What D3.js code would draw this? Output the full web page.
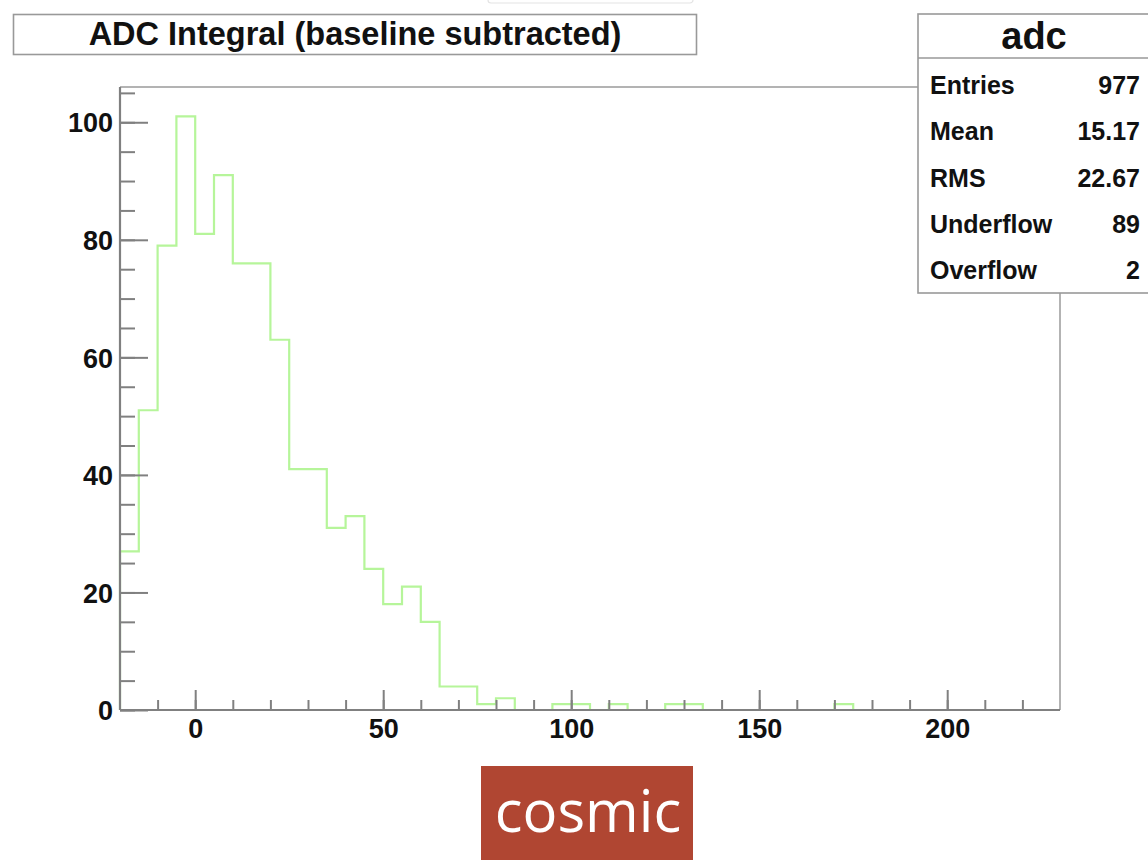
<!DOCTYPE html>
<html>
<head>
<meta charset="utf-8">
<script src="https://cdn.jsdelivr.net/npm/d3@7"></script>
<style>
  html, body { margin: 0; padding: 0; background: #fff; }
  svg { display: block; }
</style>
</head>
<body>
<svg id="chart" width="1148" height="860"></svg>
<script>
// ---- Data ----
const binLowEdges = [-20,-15,-10,-5,0,5,10,15,20,25,30,35,40,45,50,55,60,65,70,75,80,85,90,95,100,105,110,115,120,125,130,135,140,145,150,155,160,165,170,175,180,185,190,195,200,205,210,215,220,225];
const binCounts   = [27,51,79,101,81,91,76,76,63,41,41,31,33,24,18,21,15,4,4,1,2,0,0,1,1,0,1,0,0,1,1,0,0,0,0,0,0,0,1,0,0,0,0,0,0,0,0,0,0,0];
const binWidth = 5;
const xTickLabels = [0, 50, 100, 150, 200];
const yTickLabels = [0, 20, 40, 60, 80, 100];
const titleText = "ADC Integral (baseline subtracted)";
const statsName = "adc";
const statsLabels = ["Entries", "Mean", "RMS", "Underflow", "Overflow"];
const statsValues = ["977", "15.17", "22.67", "89", "2"];
const captionText = "cosmic";

// ---- Layout ----
const svg = d3.select("#chart");
const frame = { left: 120, right: 1060, top: 87, bottom: 710 };
const x = d3.scaleLinear().domain([-20, 230]).range([frame.left, frame.right]);
const y = d3.scaleLinear().domain([0, 106]).range([frame.bottom, frame.top]);
const font = "'Liberation Sans', Arial, Helvetica, sans-serif";

// faint remnant box at top
svg.append("rect").attr("x", 488).attr("y", -6).attr("width", 205).attr("height", 9)
  .attr("rx", 3).attr("fill", "none").attr("stroke", "#e4e4e4").attr("stroke-width", 1.2);

// Frame (top + right)
svg.append("line").attr("x1", frame.left).attr("x2", frame.right).attr("y1", frame.top).attr("y2", frame.top)
  .attr("stroke", "#9a9a9a").attr("stroke-width", 1.5);
svg.append("line").attr("x1", frame.right).attr("x2", frame.right).attr("y1", frame.top).attr("y2", frame.bottom)
  .attr("stroke", "#9a9a9a").attr("stroke-width", 1.5);

// Histogram step path
let pts = [[x(binLowEdges[0]), y(0)]];
binLowEdges.forEach((lo, i) => {
  pts.push([x(lo), y(binCounts[i])]);
  pts.push([x(lo + binWidth), y(binCounts[i])]);
});
pts.push([x(binLowEdges[binLowEdges.length - 1] + binWidth), y(0)]);
svg.append("path")
  .attr("d", d3.line()(pts))
  .attr("fill", "none")
  .attr("stroke", "#b6f59a")
  .attr("stroke-width", 2.2);

// Y axis: minor ticks
const yMinor = d3.range(0, 106, 5);
svg.append("g").attr("transform", `translate(${frame.left},0)`)
  .call(d3.axisLeft(y).tickValues(yMinor).tickSizeInner(-15).tickSizeOuter(0).tickFormat(""))
  .call(g => g.select(".domain").remove())
  .call(g => g.selectAll("line").attr("stroke", "#808080").attr("stroke-width", 2));
// Y axis: major ticks with labels
svg.append("g").attr("transform", `translate(${frame.left},0)`)
  .call(d3.axisLeft(y).tickValues(yTickLabels).tickSizeInner(-28).tickSizeOuter(0).tickPadding(7))
  .call(g => g.select(".domain").remove())
  .call(g => g.selectAll("line").attr("stroke", "#808080").attr("stroke-width", 2))
  .call(g => g.selectAll("text").attr("font-family", font).attr("font-weight", "bold")
    .attr("font-size", 27).attr("fill", "#111").attr("dy", "0.36em"));

// X axis: minor ticks
const xMinor = d3.range(-10, 230, 10);
svg.append("g").attr("transform", `translate(0,${frame.bottom})`)
  .call(d3.axisBottom(x).tickValues(xMinor).tickSizeInner(-10).tickSizeOuter(0).tickFormat(""))
  .call(g => g.select(".domain").remove())
  .call(g => g.selectAll("line").attr("stroke", "#808080").attr("stroke-width", 2));
// X axis: major ticks with labels
svg.append("g").attr("transform", `translate(0,${frame.bottom})`)
  .call(d3.axisBottom(x).tickValues(xTickLabels).tickSizeInner(-20).tickSizeOuter(0).tickPadding(9))
  .call(g => g.select(".domain").remove())
  .call(g => g.selectAll("line").attr("stroke", "#808080").attr("stroke-width", 2))
  .call(g => g.selectAll("text").attr("font-family", font).attr("font-weight", "bold")
    .attr("font-size", 27).attr("fill", "#111").attr("dy", "0.71em"));

// Axis lines
svg.append("line").attr("x1", frame.left).attr("x2", frame.left).attr("y1", frame.top).attr("y2", frame.bottom)
  .attr("stroke", "#808080").attr("stroke-width", 2.2);
svg.append("line").attr("x1", frame.left).attr("x2", frame.right).attr("y1", frame.bottom).attr("y2", frame.bottom)
  .attr("stroke", "#808080").attr("stroke-width", 2.2);

// Title box
svg.append("rect").attr("x", 13.5).attr("y", 14.5).attr("width", 683).attr("height", 40)
  .attr("fill", "#fff").attr("stroke", "#999").attr("stroke-width", 1.6);
svg.append("text").attr("x", 355).attr("y", 45).attr("text-anchor", "middle")
  .attr("font-family", font).attr("font-weight", "bold").attr("font-size", 32.5).attr("fill", "#111")
  .text(titleText);

// Stats box
const sb = svg.append("g");
sb.append("rect").attr("x", 918).attr("y", 14).attr("width", 260).attr("height", 279)
  .attr("fill", "#fff").attr("stroke", "#999").attr("stroke-width", 1.6);
sb.append("line").attr("x1", 918).attr("x2", 1148).attr("y1", 58).attr("y2", 58)
  .attr("stroke", "#999").attr("stroke-width", 1.6);
sb.append("text").attr("x", 1034).attr("y", 49).attr("text-anchor", "middle")
  .attr("font-family", font).attr("font-weight", "bold").attr("font-size", 38).attr("fill", "#111")
  .text(statsName);
const rowY = d3.scalePoint().domain(statsLabels).range([85, 270]);
statsLabels.forEach((lab, i) => {
  sb.append("text").attr("x", 930).attr("y", rowY(lab)).attr("dy", "0.36em")
    .attr("font-family", font).attr("font-weight", "bold").attr("font-size", 25).attr("fill", "#111")
    .text(lab);
  sb.append("text").attr("x", 1140).attr("y", rowY(lab)).attr("dy", "0.36em").attr("text-anchor", "end")
    .attr("font-family", font).attr("font-weight", "bold").attr("font-size", 25).attr("fill", "#111")
    .text(statsValues[i]);
});

// Caption
svg.append("rect").attr("x", 481).attr("y", 766).attr("width", 212).attr("height", 100)
  .attr("fill", "#b04632");
svg.append("text").attr("x", 588).attr("y", 832).attr("text-anchor", "middle")
  .attr("font-family", "'Open Sans', 'Noto Sans', sans-serif").attr("font-size", 58).attr("fill", "#fff")
  .text(captionText);
</script>
</body>
</html>
